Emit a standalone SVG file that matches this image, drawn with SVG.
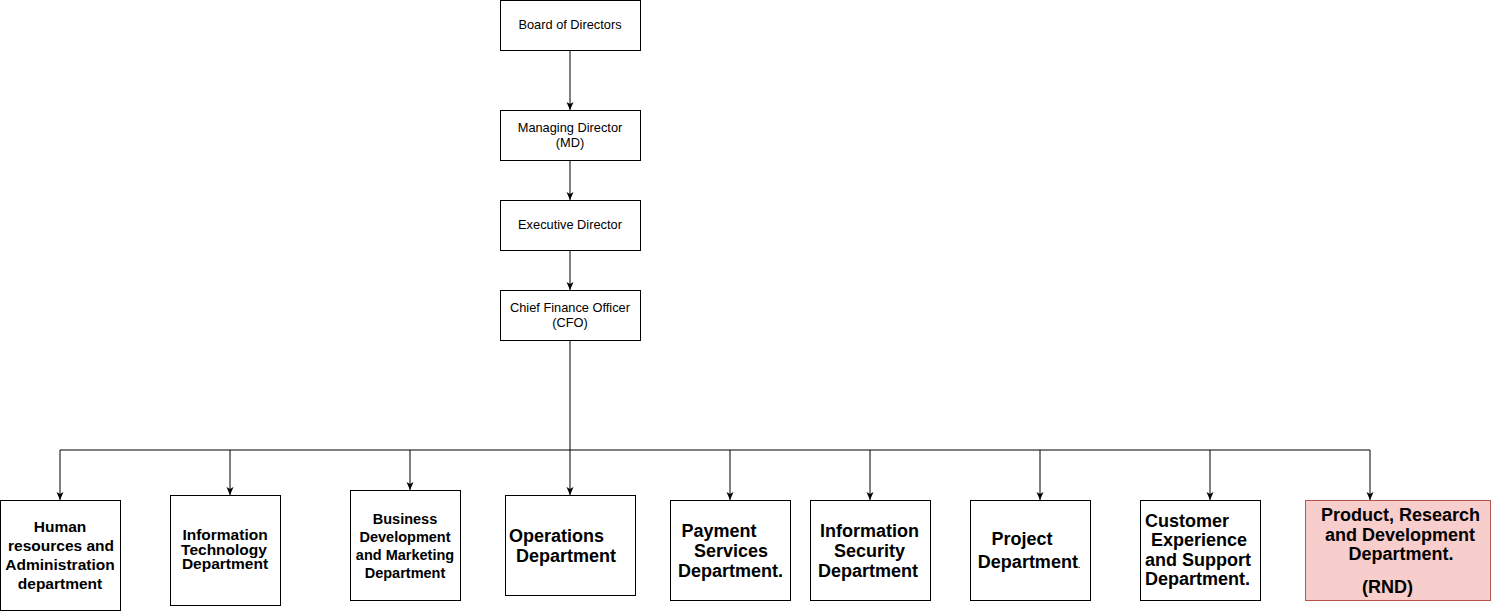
<svg xmlns="http://www.w3.org/2000/svg" width="1491" height="611" viewBox="0 0 1491 611">
<style>
.box{fill:#ffffff;stroke:#000000;stroke-width:1}
.rnd{fill:#f8cecc;stroke:#b85450;stroke-width:1}
.edge{fill:none;stroke:#000000;stroke-width:1}
.t{font-family:"Liberation Sans",Arial,Helvetica,sans-serif;font-size:12.8px;fill:#000000;text-anchor:middle}
.b{font-family:"Liberation Sans",Arial,Helvetica,sans-serif;font-weight:bold;fill:#000000;text-anchor:middle}
.s{text-anchor:start}
</style>
<defs>
<marker id="arr" viewBox="0 0 8 8" refX="8" refY="4" markerWidth="8" markerHeight="8" markerUnits="userSpaceOnUse" orient="auto">
<path d="M0,0.5 L8,4 L0,7.5 L2,4 z" fill="#000000"/>
</marker>
</defs>
<g id="connectors">
<path class="edge" d="M570,50 V110" marker-end="url(#arr)"/>
<path class="edge" d="M570,160 V200" marker-end="url(#arr)"/>
<path class="edge" d="M570,250 V290" marker-end="url(#arr)"/>
<path class="edge" d="M570,340 V495" marker-end="url(#arr)"/>
<path class="edge" d="M570,450 H60 V500" marker-end="url(#arr)"/>
<path class="edge" d="M570,450 H1370 V500" marker-end="url(#arr)"/>
<path class="edge" d="M230,450 V495" marker-end="url(#arr)"/>
<path class="edge" d="M410,450 V490" marker-end="url(#arr)"/>
<path class="edge" d="M730,450 V500" marker-end="url(#arr)"/>
<path class="edge" d="M870,450 V500" marker-end="url(#arr)"/>
<path class="edge" d="M1040,450 V500" marker-end="url(#arr)"/>
<path class="edge" d="M1210,450 V500" marker-end="url(#arr)"/>
</g>
<g id="board">
<rect class="box" x="500.5" y="0.5" width="140" height="50"/>
<text class="t" x="570" y="29">Board of Directors</text>
</g>
<g id="md">
<rect class="box" x="500.5" y="110.5" width="140" height="50"/>
<text class="t" x="570" y="132">Managing Director</text>
<text class="t" x="570" y="147">(MD)</text>
</g>
<g id="exec">
<rect class="box" x="500.5" y="200.5" width="140" height="50"/>
<text class="t" x="570" y="229">Executive Director</text>
</g>
<g id="cfo">
<rect class="box" x="500.5" y="290.5" width="140" height="50"/>
<text class="t" x="570" y="311.5">Chief Finance Officer</text>
<text class="t" x="570" y="326.5">(CFO)</text>
</g>
<g id="hr">
<rect class="box" x="0.5" y="500.5" width="120" height="110"/>
<text class="b" font-size="15.5" x="60" y="532">Human</text>
<text class="b" font-size="15.5" x="61" y="551">resources and</text>
<text class="b" font-size="15.5" x="60" y="570">Administration</text>
<text class="b" font-size="15.5" x="60" y="589">department</text>
</g>
<g id="it">
<rect class="box" x="170.5" y="495.5" width="110" height="110"/>
<text class="b" font-size="15.5" x="225" y="540">Information</text>
<text class="b" font-size="15.5" x="224" y="554.5">Technology</text>
<text class="b" font-size="15.5" x="225" y="569">Department</text>
</g>
<g id="bd">
<rect class="box" x="350.5" y="490.5" width="110" height="110"/>
<text class="b" font-size="14.5" x="405" y="523.5">Business</text>
<text class="b" font-size="14.5" x="405" y="541.5">Development</text>
<text class="b" font-size="14.5" x="405" y="559.5">and Marketing</text>
<text class="b" font-size="14.5" x="405" y="577.5">Department</text>
</g>
<g id="ops">
<rect class="box" x="505.5" y="495.5" width="130" height="100"/>
<text class="b s" font-size="18" x="509" y="541.5">Operations</text>
<text class="b s" font-size="18" x="516" y="561.5">Department</text>
</g>
<g id="pay">
<rect class="box" x="670.5" y="500.5" width="120" height="100"/>
<text class="b" font-size="18" x="719" y="536.5">Payment</text>
<text class="b" font-size="18" x="731" y="556.5">Services</text>
<text class="b" font-size="18" x="730.5" y="576.5">Department.</text>
</g>
<g id="infosec">
<rect class="box" x="810.5" y="500.5" width="120" height="100"/>
<text class="b" font-size="18" x="869.5" y="536.5">Information</text>
<text class="b" font-size="18" x="869.5" y="556.5">Security</text>
<text class="b" font-size="18" x="868" y="576.5">Department</text>
</g>
<g id="project">
<rect class="box" x="970.5" y="500.5" width="120" height="100"/>
<text class="b" font-size="18" x="1022" y="545">Project</text>
<text class="b" font-size="18" x="1029" y="568">Department<tspan font-size="8">.</tspan></text>
</g>
<g id="customer">
<rect class="box" x="1140.5" y="500.5" width="120" height="100"/>
<text class="b s" font-size="18" x="1145" y="527">Customer</text>
<text class="b s" font-size="18" x="1151" y="546">Experience</text>
<text class="b s" font-size="18" x="1145" y="565.5">and Support</text>
<text class="b s" font-size="18" x="1145" y="584.5">Department.</text>
</g>
<g id="rnd">
<rect class="rnd" x="1305.5" y="500.5" width="185" height="100"/>
<text class="b" font-size="18" x="1400.5" y="521">Product, Research</text>
<text class="b" font-size="18" x="1400" y="540.5">and Development</text>
<text class="b" font-size="18" x="1401" y="560">Department.</text>
<text class="b" font-size="18" x="1387.5" y="593">(RND)</text>
</g>
</svg>
